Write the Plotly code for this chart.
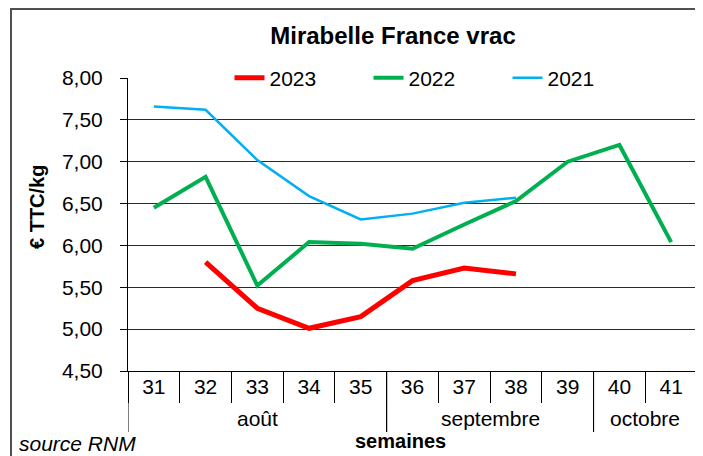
import plotly.graph_objects as go

# ---- data ----
weeks = ["31", "32", "33", "34", "35", "36", "37", "38", "39", "40", "41"]
months = ["août"] * 5 + ["septembre"] * 4 + ["octobre"] * 2
y2023 = [None, 5.80, 5.25, 5.01, 5.15, 5.58, 5.73, 5.66, None, None, None]
y2022 = [6.45, 6.82, 5.52, 6.04, 6.02, 5.96, 6.25, 6.53, 7.00, 7.20, 6.04]
y2021 = [7.66, 7.62, 7.02, 6.59, 6.31, 6.38, 6.51, 6.57, None, None, None]
y_ticks = [4.5, 5.0, 5.5, 6.0, 6.5, 7.0, 7.5, 8.0]

# the page body has an 8px margin, so the figure starts at (8, 8) in the window
OFF = 8
W, H = 703 - OFF, 456 - OFF
L, T = 128 - OFF, 78 - OFF
R = W - (697 - OFF)
B = H - (371 - OFF)
PW, PH = W - L - R, H - T - B
FONT = "Liberation Sans, Arial, sans-serif"


def wx(xp):  # window pixel -> paper x
    return (xp - OFF - L) / PW


def wy(yp):  # window pixel -> paper y
    return (H - B - (yp - OFF)) / PH


fig = go.Figure()
fig.add_trace(go.Scatter(x=weeks, y=y2023, name="2023", mode="lines",
                         line=dict(color="#FF0000", width=5)))
fig.add_trace(go.Scatter(x=weeks, y=y2022, name="2022", mode="lines",
                         line=dict(color="#00B050", width=4)))
fig.add_trace(go.Scatter(x=weeks, y=y2021, name="2021", mode="lines",
                         line=dict(color="#00B0F0", width=2.5)))

# month groups: labels centred on their weeks, dividers on group boundaries
groups = []
for i, m in enumerate(months):
    if not groups or groups[-1][0] != m:
        groups.append([m, i, i])
    else:
        groups[-1][2] = i

shapes = [dict(type="rect", xref="paper", yref="paper",
               x0=wx(11), x1=wx(712), y0=wy(470), y1=wy(9),
               line=dict(color="#505050", width=2), layer="below")]
annotations = []
for m, i0, i1 in groups:
    annotations.append(dict(text=m, xref="x", yref="paper", x=(i0 + i1) / 2, y=wy(418),
                            xanchor="center", yanchor="middle", showarrow=False,
                            font=dict(size=21)))
    for b in (i0 - 0.5, i1 + 0.5):
        shapes.append(dict(type="line", xref="x", yref="paper", x0=b, x1=b,
                           y0=0, y1=wy(432), line=dict(color="black", width=1)))

annotations += [
    dict(text="<b>€ TTC/kg</b>", textangle=-90, xref="paper", yref="paper",
         x=wx(37), y=wy(207), xanchor="center", yanchor="middle",
         showarrow=False, font=dict(size=20)),
    dict(text="<b>semaines</b>", xref="paper", yref="paper",
         x=wx(400), y=wy(441), xanchor="center", yanchor="middle",
         showarrow=False, font=dict(size=20)),
    dict(text="<i>source RNM</i>", xref="paper", yref="paper",
         x=wx(17), y=wy(443), xanchor="left", yanchor="middle",
         showarrow=False, font=dict(size=21)),
]

fig.update_layout(
    width=W, height=H,
    margin=dict(l=L, r=R, t=T, b=B, autoexpand=False),
    paper_bgcolor="white", plot_bgcolor="white",
    separators=", ",
    font=dict(family=FONT, size=21, color="black"),
    title=dict(text="<b>Mirabelle France vrac</b>", x=(393 - OFF) / W, xanchor="center",
               y=1 - (36 - OFF) / H, yanchor="middle", yref="container",
               font=dict(family=FONT, size=24, color="black")),
    showlegend=True,
    legend=dict(orientation="h", x=wx(438), xanchor="center", y=1.0, yanchor="middle",
                bgcolor="white", borderwidth=0, font=dict(size=21),
                entrywidth=94, entrywidthmode="pixels", itemwidth=30),
    xaxis=dict(type="category", categoryarray=weeks, categoryorder="array",
               range=[-0.5, len(weeks) - 0.5], automargin=False,
               showline=True, linecolor="black", linewidth=1,
               ticks="outside", tickson="boundaries", ticklen=31, tickcolor="black",
               ticklabelstandoff=-3, showgrid=False, zeroline=False,
               tickfont=dict(size=21)),
    yaxis=dict(range=[4.5, 8.0], tickvals=y_ticks, tickformat=".2f", automargin=False,
               showline=True, linecolor="black", linewidth=1,
               ticks="outside", ticklen=7, tickcolor="black", ticklabelstandoff=13,
               showgrid=True, gridcolor="#2a2a2a", gridwidth=1,
               zeroline=False, tickfont=dict(size=21)),
    shapes=shapes,
    annotations=annotations,
)

fig.write_html("out.html")
